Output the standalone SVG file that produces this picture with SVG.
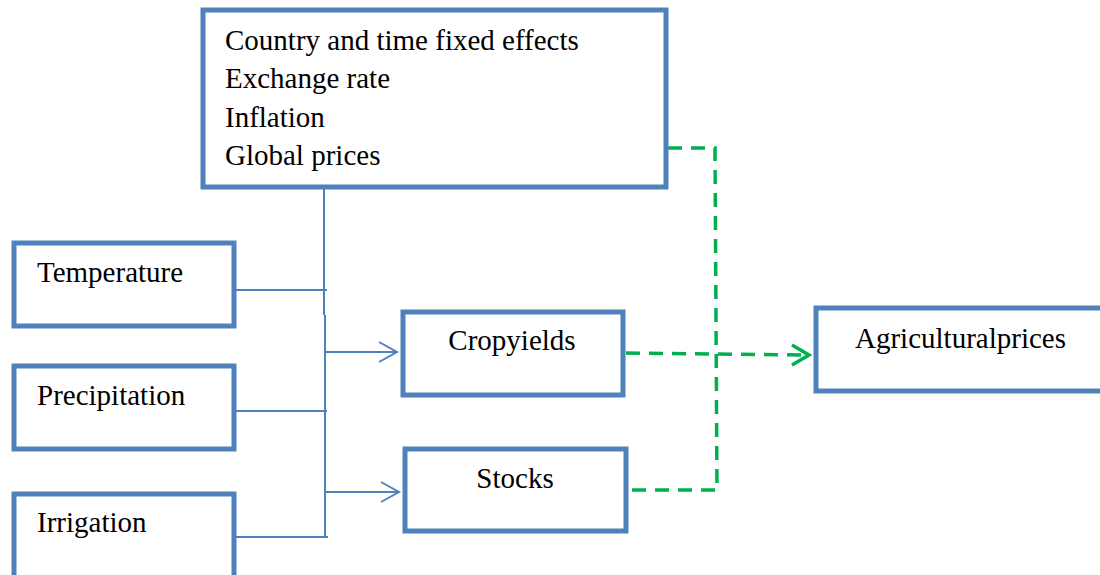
<svg xmlns="http://www.w3.org/2000/svg" width="1100" height="575" viewBox="0 0 1100 575">
<style>
.box{fill:#fff;stroke:#4F81BD;stroke-width:5}
.t{font-family:"Liberation Serif","Times New Roman",serif;font-size:29px;fill:#000}
.b{fill:none;stroke:#4F81BD;stroke-width:2}
.g{fill:none;stroke:#00B050;stroke-width:3.5;stroke-dasharray:14 9}
.gh{fill:none;stroke:#00B050;stroke-width:3.5}
</style>
<rect width="1100" height="575" fill="#fff"/>
<g id="connectors">
<polyline class="b" points="324,188 324,315"/>
<polyline class="b" points="325,315 325,537"/>
<line class="b" x1="236" y1="290" x2="327" y2="290"/>
<line class="b" x1="236" y1="411" x2="327" y2="411"/>
<line class="b" x1="236" y1="537" x2="328" y2="537"/>
<line class="b" x1="325" y1="352" x2="397" y2="352"/>
<polyline class="b" points="379,342 397,352 379,362"/>
<line class="b" x1="325" y1="492" x2="399" y2="492"/>
<polyline class="b" points="381,482 399,492 381,502"/>
<polyline class="g" points="668,148 715,148 717,490 628,490"/>
<line class="g" x1="626" y1="353" x2="806" y2="355"/>
<polyline class="gh" points="792,345 809,355 792,365"/>
</g>
<g id="top"><rect class="box" x="203" y="10" width="463" height="177"/>
<text class="t" x="225" y="50">Country and time fixed effects</text>
<text class="t" x="225" y="88">Exchange rate</text>
<text class="t" x="225" y="127">Inflation</text>
<text class="t" x="225" y="165">Global prices</text></g>
<g id="temperature"><rect class="box" x="14" y="243" width="220" height="83"/><text class="t" x="37" y="282">Temperature</text></g>
<g id="precipitation"><rect class="box" x="14" y="366" width="220" height="83"/><text class="t" x="37" y="405">Precipitation</text></g>
<g id="irrigation"><rect class="box" x="14" y="494" width="220" height="90"/><text class="t" x="37" y="532">Irrigation</text></g>
<g id="cropyields"><rect class="box" x="403" y="312" width="220" height="83"/><text class="t" x="512" y="350" text-anchor="middle">Cropyields</text></g>
<g id="stocks"><rect class="box" x="405" y="449" width="221" height="82"/><text class="t" x="515" y="488" text-anchor="middle">Stocks</text></g>
<g id="agri"><rect class="box" x="816" y="308" width="290" height="83"/><text class="t" x="855" y="348">Agriculturalprices</text></g>
</svg>
